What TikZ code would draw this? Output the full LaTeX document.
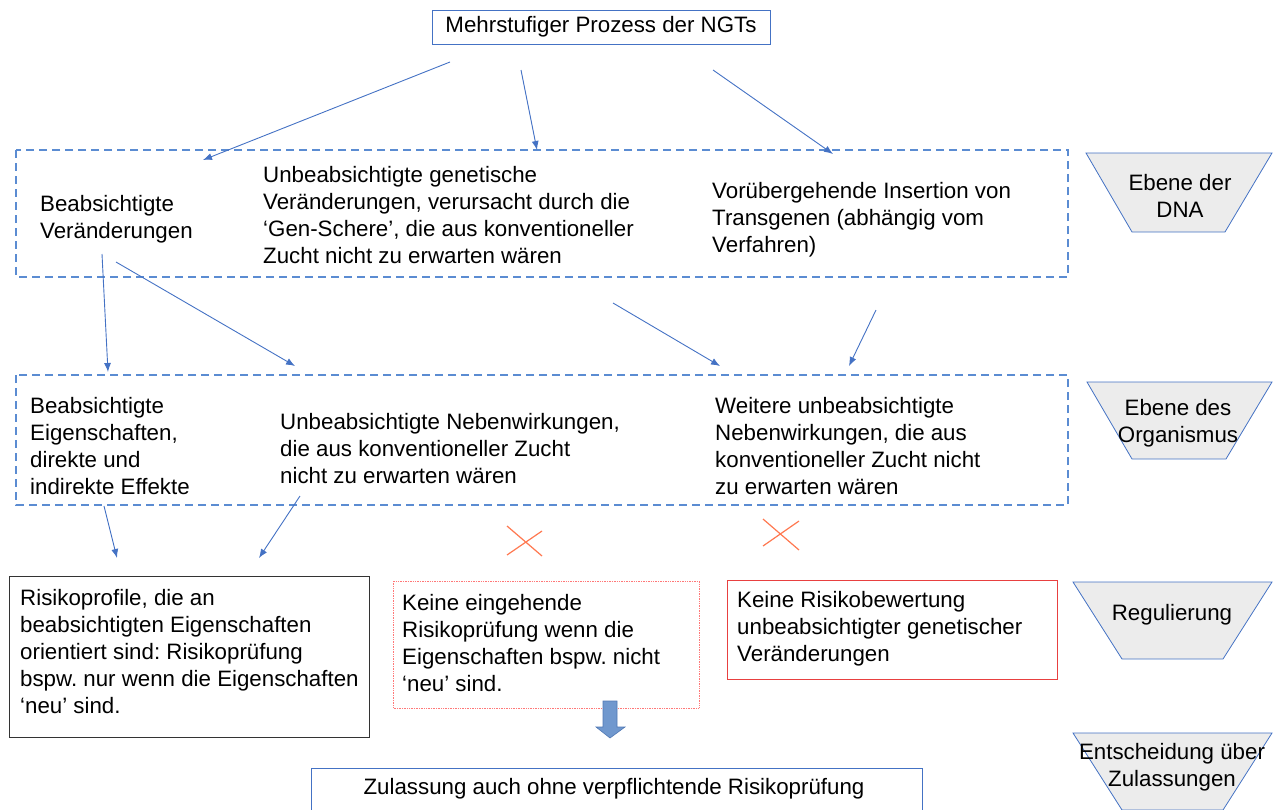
\documentclass[tikz,border=0pt]{standalone}
\usepackage{fontspec}
\setmainfont{Liberation Sans}
\usetikzlibrary{arrows.meta}
\frenchspacing

\definecolor{ngtblue}{RGB}{68,114,196}
\definecolor{dashblue}{RGB}{91,140,210}
\definecolor{ebenegray}{RGB}{236,236,236}
\definecolor{softred}{RGB}{255,120,120}
\definecolor{alertred}{RGB}{232,64,64}
\definecolor{crossorange}{RGB}{255,120,80}
\definecolor{arrowfill}{RGB}{112,152,206}
\definecolor{arrowedge}{RGB}{80,120,180}

\begin{document}
\begin{tikzpicture}[x=1pt, y=-1pt, font=\fontsize{22.3}{27}\selectfont,
    txt/.style={inner sep=0pt, align=left, anchor=west},
    ebene/.style={draw=ngtblue, fill=ebenegray, line width=0.8pt},
    ebenetxt/.style={inner sep=0pt, align=center},
    gruppe/.style={draw=dashblue, line width=1.1pt, dash pattern=on 8pt off 5pt},
    pfeil/.style={ngtblue, line width=0.9pt, -{Latex[length=9pt,width=7pt]}},
    kreuz/.style={crossorange, line width=1.2pt}]
    \clip (0,0) rectangle (1274,809);

    \node[draw=ngtblue, line width=0.9pt, minimum width=338, minimum height=34, inner sep=0pt] (prozess) at (601,27) {Mehrstufiger Prozess der NGTs};

    \draw[gruppe] (16,150) rectangle (1068,277);
    \node[txt] (beabs) at (40,219) {Beabsichtigte\\Veränderungen};
    \node[txt] (unbeabs) at (263,215) {Unbeabsichtigte genetische\\Veränderungen, verursacht durch die\\‘Gen-Schere’, die aus konventioneller\\Zucht nicht zu erwarten wären};
    \node[txt] (insertion) at (712,220) {Vorübergehende Insertion von\\Transgenen (abhängig vom\\Verfahren)};

    \draw[gruppe] (16,375) rectangle (1068,505);
    \node[txt] (eigen) at (30,446) {Beabsichtigte\\Eigenschaften,\\direkte und\\indirekte Effekte};
    \node[txt] (neben) at (280,449) {Unbeabsichtigte Nebenwirkungen,\\die aus konventioneller Zucht\\nicht zu erwarten wären};
    \node[txt] (weitere) at (715,446) {Weitere unbeabsichtigte\\Nebenwirkungen, die aus\\konventioneller Zucht nicht\\zu erwarten wären};

    \filldraw[ebene] (1086,153) -- (1272,153) -- (1225,232) -- (1132,232) -- cycle;
    \node[ebenetxt] (dna) at (1180,196) {Ebene der\\DNA};
    \filldraw[ebene] (1087,382) -- (1272,382) -- (1226,459) -- (1132,459) -- cycle;
    \node[ebenetxt] (organismus) at (1178,423) {Ebene des\\Organismus};
    \filldraw[ebene] (1073,582) -- (1272,582) -- (1223,659) -- (1122,659) -- cycle;
    \node[ebenetxt] (regulierung) at (1172,615) {Regulierung};
    \filldraw[ebene] (1073,733) -- (1272,733) -- (1223,810) -- (1122,810) -- cycle;
    \node[ebenetxt] (zulassungen) at (1172,767) {Entscheidung über\\Zulassungen};

    \draw[black!80, line width=1pt] (9,576) rectangle (369,737);
    \node[txt] (profile) at (20,652) {Risikoprofile, die an\\beabsichtigten Eigenschaften\\orientiert sind: Risikoprüfung\\bspw. nur wenn die Eigenschaften\\‘neu’ sind.};
    \draw[softred, line width=0.9pt, dash pattern=on 1pt off 0.7pt] (393,581) rectangle (699,708);
    \node[txt] (keinepruef) at (402,643) {Keine eingehende\\Risikoprüfung wenn die\\Eigenschaften bspw. nicht\\‘neu’ sind.};
    \draw[alertred, line width=1pt] (727,580) rectangle (1057,679);
    \node[txt] (keinebew) at (737,629) {Keine Risikobewertung\\unbeabsichtigter genetischer\\Veränderungen};

    \draw[ngtblue, line width=0.9pt] (311,768) rectangle (922,830);
    \node[inner sep=0pt] (zulassung) at (614,789) {Zulassung auch ohne verpflichtende Risikoprüfung};

    \filldraw[draw=arrowedge, fill=arrowfill, line width=0.6pt] (603,701) -- (617,701) -- (617,727) -- (625,727) -- (610,738) -- (596,727) -- (603,727) -- cycle;

    \draw[kreuz] (507,526) -- (542,556) (507,555) -- (542,531);
    \draw[kreuz] (763,519) -- (799,550) (763,546) -- (799,521);

    \coordinate (prozess-l) at (450,62);
    \coordinate (prozess-m) at (521,70);
    \coordinate (prozess-r) at (713,70);
    \coordinate (beabs-in) at (203,160);
    \coordinate (unbeabs-in) at (537,150);
    \coordinate (insertion-in) at (833,154);
    \draw[pfeil] (prozess-l) -- (beabs-in);
    \draw[pfeil] (prozess-m) -- (unbeabs-in);
    \draw[pfeil] (prozess-r) -- (insertion-in);

    \coordinate (beabs-a) at (102,254);
    \coordinate (beabs-b) at (116,262);
    \coordinate (unbeabs-out) at (613,303);
    \coordinate (insertion-out) at (876,310);
    \coordinate (eigen-in) at (108,372);
    \coordinate (neben-in) at (295,366);
    \coordinate (weitere-a) at (720,366);
    \coordinate (weitere-b) at (849,366);
    \draw[pfeil] (beabs-a) -- (eigen-in);
    \draw[pfeil] (beabs-b) -- (neben-in);
    \draw[pfeil] (unbeabs-out) -- (weitere-a);
    \draw[pfeil] (insertion-out) -- (weitere-b);

    \coordinate (eigen-out) at (104,506);
    \coordinate (neben-out) at (300,496);
    \coordinate (profile-a) at (117,558);
    \coordinate (profile-b) at (259,558);
    \draw[pfeil] (eigen-out) -- (profile-a);
    \draw[pfeil] (neben-out) -- (profile-b);
\end{tikzpicture}
\end{document}
